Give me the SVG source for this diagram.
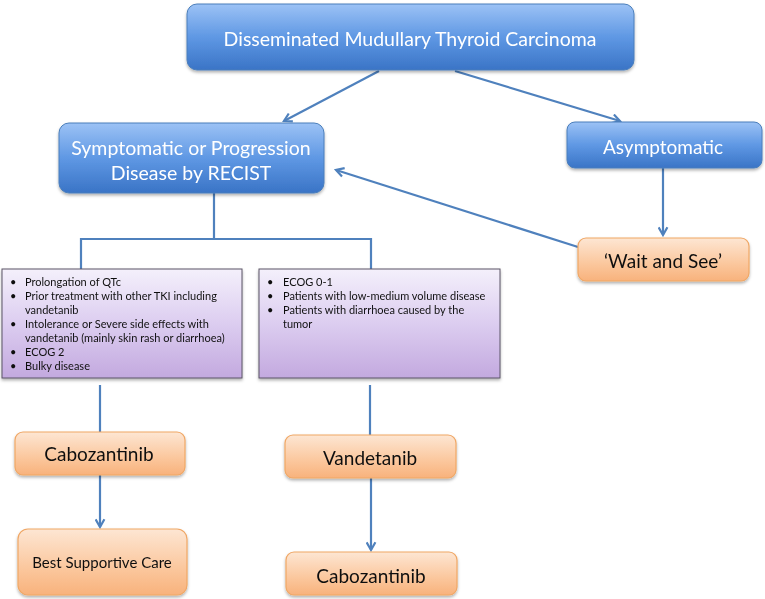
<svg xmlns="http://www.w3.org/2000/svg" width="765" height="599" viewBox="0 0 765 599">
<style>
.t{font-family:Lato,"Open Sans","Liberation Sans",sans-serif;text-anchor:middle}
.w{fill:#ffffff}
.k{fill:#111111}
.s{font-family:Lato,"Open Sans","Liberation Sans",sans-serif;font-size:11px;fill:#111}
.blue{fill:url(#gb);stroke:#4a7ebb;stroke-width:1}
.or{fill:url(#go);stroke:#f0a765;stroke-width:1.2}
.pu{fill:url(#gp);stroke:#5b5566;stroke-width:1}
.c{fill:none;stroke:#4f81bd;stroke-width:2.2}
</style>
<defs>
<linearGradient id="gb" x1="0" y1="0" x2="0" y2="1"><stop offset="0" stop-color="#9cc2f5"/><stop offset="0.5" stop-color="#5f98e4"/><stop offset="1" stop-color="#3a74c6"/></linearGradient>
<linearGradient id="go" x1="0" y1="0" x2="0" y2="1"><stop offset="0" stop-color="#fde6d3"/><stop offset="0.6" stop-color="#fbc79d"/><stop offset="1" stop-color="#f8b27c"/></linearGradient>
<linearGradient id="gp" x1="0" y1="0" x2="0" y2="1"><stop offset="0" stop-color="#f4f0fb"/><stop offset="0.5" stop-color="#dccdf0"/><stop offset="1" stop-color="#c3a9df"/></linearGradient>
<marker id="a" viewBox="0 0 10 10" refX="8" refY="5" markerWidth="5" markerHeight="5" orient="auto" markerUnits="strokeWidth"><path d="M1,1 L8,5 L1,9" fill="none" stroke="#4f81bd" stroke-width="2"/></marker>
<filter id="sh" x="-10%" y="-10%" width="120%" height="130%"><feDropShadow dx="0" dy="2" stdDeviation="1.5" flood-color="#000" flood-opacity="0.3"/></filter>
</defs>
<g id="connectors">
<path class="c" d="M379,71 L284,121" marker-end="url(#a)"/>
<path class="c" d="M455,71 L620,121" marker-end="url(#a)"/>
<path class="c" d="M663,168 L663,235" marker-end="url(#a)"/>
<path class="c" d="M578,247 L336,170" marker-end="url(#a)"/>
<path class="c" d="M214,193 L214,239 M80,239 L372,239 M81,238 L81,269 M371,238 L371,269"/>
<path class="c" d="M100,385 L100,432"/>
<path class="c" d="M370,385 L370,435"/>
<path class="c" d="M100,475 L100,527" marker-end="url(#a)"/>
<path class="c" d="M371,478 L371,550" marker-end="url(#a)"/>
</g>
<g id="n1" filter="url(#sh)"><rect class="blue" x="187" y="4" width="447" height="66" rx="10"/><text class="t w" x="410" y="46" font-size="19.5">Disseminated Mudullary Thyroid Carcinoma</text></g>
<g id="n2" filter="url(#sh)"><rect class="blue" x="59" y="123" width="265" height="70" rx="10"/><text class="t w" x="191" y="155" font-size="19.5">Symptomatic or Progression</text><text class="t w" x="191" y="180" font-size="19.5">Disease by RECIST</text></g>
<g id="n3" filter="url(#sh)"><rect class="blue" x="567" y="122" width="195" height="46" rx="8"/><text class="t w" x="663" y="154" font-size="19">Asymptomatic</text></g>
<g id="n4" filter="url(#sh)"><rect class="or" x="578" y="238" width="171" height="43" rx="8"/><text class="t k" x="663" y="268" font-size="19">‘Wait and See’</text></g>
<g id="n5" filter="url(#sh)"><rect class="pu" x="2" y="269" width="240" height="109"/>
<text class="s" x="10" y="286">•</text><text class="s" x="25" y="286">Prolongation of QTc</text>
<text class="s" x="10" y="300">•</text><text class="s" x="25" y="300">Prior treatment with other TKI including</text>
<text class="s" x="25" y="314">vandetanib</text>
<text class="s" x="10" y="328">•</text><text class="s" x="25" y="328">Intolerance or Severe side effects with</text>
<text class="s" x="25" y="342">vandetanib (mainly skin rash or diarrhoea)</text>
<text class="s" x="10" y="356">•</text><text class="s" x="25" y="356">ECOG 2</text>
<text class="s" x="10" y="370">•</text><text class="s" x="25" y="370">Bulky disease</text>
</g>
<g id="n6" filter="url(#sh)"><rect class="pu" x="259" y="269" width="241" height="109"/>
<text class="s" x="267" y="286">•</text><text class="s" x="283" y="286">ECOG 0-1</text>
<text class="s" x="267" y="300">•</text><text class="s" x="283" y="300">Patients with low-medium volume disease</text>
<text class="s" x="267" y="314">•</text><text class="s" x="283" y="314">Patients with diarrhoea caused by the</text>
<text class="s" x="283" y="328">tumor</text>
</g>
<g id="n7" filter="url(#sh)"><rect class="or" x="15" y="432" width="170" height="43" rx="8"/><text class="t k" x="99" y="461" font-size="19">Cabozantinib</text></g>
<g id="n8" filter="url(#sh)"><rect class="or" x="18" y="529" width="169" height="66" rx="10"/><text class="t k" x="102" y="568" font-size="15">Best Supportive Care</text></g>
<g id="n9" filter="url(#sh)"><rect class="or" x="285" y="435" width="171" height="43" rx="8"/><text class="t k" x="370" y="465" font-size="19">Vandetanib</text></g>
<g id="n10" filter="url(#sh)"><rect class="or" x="286" y="552" width="171" height="43" rx="8"/><text class="t k" x="371" y="583" font-size="19">Cabozantinib</text></g>
</svg>
